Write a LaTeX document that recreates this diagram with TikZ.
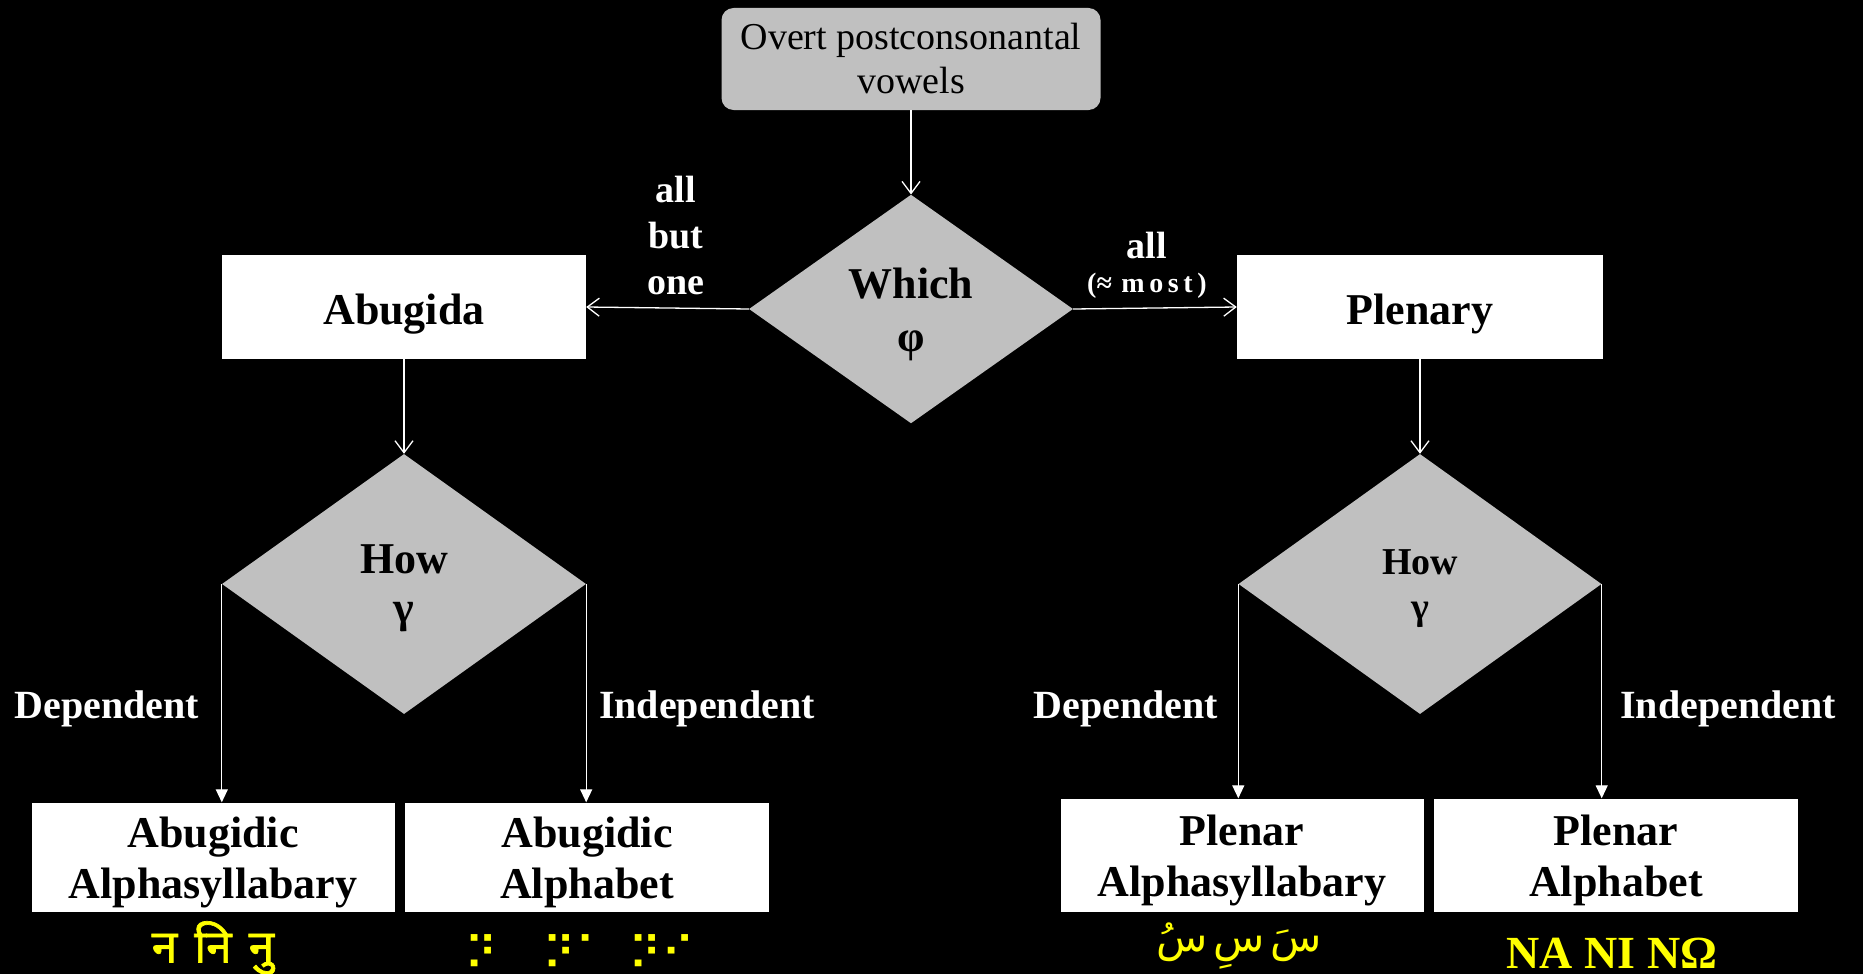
\documentclass[tikz,border=0pt]{standalone}
\usepackage{fontspec}
\setmainfont{Liberation Serif}
\newfontfamily\devafont[Script=Devanagari, FakeBold=1.5]{Noto Sans}
\newfontfamily\arabicfont[Script=Arabic]{DejaVu Sans}
\newfontfamily\braillefont{DejaVu Sans}
\TeXXeTstate=1
\usetikzlibrary{shapes.geometric,arrows.meta}
\definecolor{boxgray}{RGB}{192,192,192}
\definecolor{scriptyellow}{RGB}{255,255,0}
% add extra height above the first line so the text sits lower in its node
\newcommand\padtop[2]{\raisebox{0pt}[\dimexpr\height+#1\relax]{#2}}
\tikzset{
  startbox/.style={rectangle, rounded corners=12pt, fill=boxgray, minimum width=379pt, minimum height=102pt, align=center, inner sep=0pt, font=\fontsize{38}{44}\selectfont, text=black},
  decision/.style={diamond, fill=boxgray, inner sep=0pt, align=center, text=black},
  outbox/.style={rectangle, fill=white, inner sep=0pt, align=center, text=black, font=\bfseries\fontsize{44}{51}\selectfont},
  lbl/.style={text=white, font=\bfseries\fontsize{40}{44}\selectfont, align=center, inner sep=0pt},
  flow/.style={draw=white, line width=1.3pt, -{Straight Barb[length=12pt,width=18pt]}},
  leaf/.style={draw=white, line width=1.3pt, -{Triangle[length=13pt,width=12pt]}},
  sample/.style={text=scriptyellow, inner sep=0pt}
}
\begin{document}
\begin{tikzpicture}[x=1pt,y=-1pt]
\useasboundingbox (0,0) rectangle (1863,974);
\fill[black] (0,0) rectangle (1863,974);

\node[startbox] (top) at (911,59) {Overt postconsonantal\\vowels};
\node[decision, minimum width=324pt, minimum height=226pt, font=\bfseries\fontsize{44}{53}\selectfont] (which) at (911,309) {\padtop{11pt}{Which}\\φ};

\node[outbox, minimum width=364pt, minimum height=104pt] (abugida) at (404,307) {\padtop{14pt}{Abugida}};
\node[outbox, minimum width=366pt, minimum height=104pt] (plenary) at (1420,307) {\padtop{14pt}{Plenary}};

\node[decision, minimum width=364pt, minimum height=260pt, font=\bfseries\fontsize{44}{49}\selectfont] (how1) at (404,584) {\padtop{8pt}{How}\\γ};
\node[decision, minimum width=363pt, minimum height=260pt, font=\bfseries\fontsize{38}{45}\selectfont] (how2) at (1420,584) {\padtop{10pt}{How}\\γ};

\node[outbox, minimum width=363pt, minimum height=109pt] (b1) at (213,857) {\padtop{10pt}{Abugidic}\\Alphasyllabary};
\node[outbox, minimum width=364pt, minimum height=109pt] (b2) at (587,857) {\padtop{10pt}{Abugidic}\\Alphabet};
\node[outbox, minimum width=363pt, minimum height=113pt] (b3) at (1242,855) {\padtop{10pt}{Plenar}\\Alphasyllabary};
\node[outbox, minimum width=364pt, minimum height=113pt] (b4) at (1616,855) {\padtop{10pt}{Plenar}\\Alphabet};

\draw[flow] (top.south) -- (which.north);
\draw[flow] (which.west) -- (abugida.east);
\draw[flow] (which.east) -- (plenary.west);
\draw[flow] (abugida.south) -- (how1.north);
\draw[flow] (plenary.south) -- (how2.north);
\draw[leaf] (how1.west) -- (how1.west |- b1.north);
\draw[leaf] (how1.east) -- (how1.east |- b2.north);
\draw[leaf] (how2.west) -- (how2.west |- b3.north);
\draw[leaf] (how2.east) -- (how2.east |- b4.north);

\node[lbl, font=\bfseries\fontsize{38}{46}\selectfont] (allbutone) at (676,235) {all\\but\\one};
\node[lbl, font=\bfseries\fontsize{38}{44}\selectfont] (all) at (1147,246) {all};
\node[lbl, font=\bfseries\fontsize{28}{30}\selectfont] (most) at (1147,286) {(≈\,\,m\,o\,s\,t\,)};

\node[lbl] (dep1) at (107,709) {Dependent};
\node[lbl] (ind1) at (707,709) {Independent};
\node[lbl] (dep2) at (1126,709) {Dependent};
\node[lbl] (ind2) at (1728,709) {Independent};

\node[sample, font=\devafont\fontsize{46}{50}\selectfont] (deva) at (213,948) {न\hspace{17pt}नि\hspace{17pt}नु};
\node[sample, font=\braillefont\fontsize{46}{46}\selectfont] (br1) at (481,953) {⠝};
\node[sample, font=\braillefont\fontsize{46}{46}\selectfont] (br2) at (576,953) {⠝⠁};
\node[sample, font=\braillefont\fontsize{46}{46}\selectfont] (br3) at (662,953) {⠝⠊};
\node[sample, font=\arabicfont\fontsize{42}{46}\selectfont] (arab) at (1239,946) {\beginR سَ\hspace{6pt}سِ\hspace{6pt}سُ\endR};
\node[sample, font=\bfseries\fontsize{46}{50}\selectfont] (greek) at (1612,953) {NA NI NΩ};
\end{tikzpicture}
\end{document}
